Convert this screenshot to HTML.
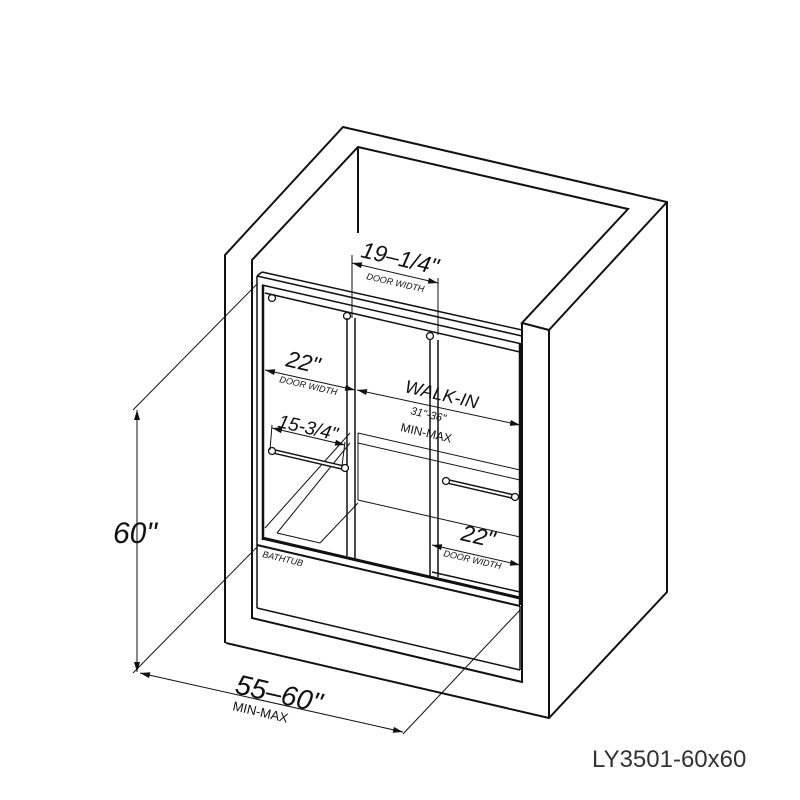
<!DOCTYPE html>
<html><head><meta charset="utf-8"><style>
html,body{margin:0;padding:0;background:#fff;}
svg{display:block;}
text{font-family:"Liberation Sans",sans-serif;fill:#111;}
.i{font-style:italic;}
.n{font-style:normal;}
</style></head><body>
<svg width="800" height="800" viewBox="0 0 800 800" xmlns="http://www.w3.org/2000/svg">
<defs>
<marker id="a" viewBox="0 0 10 6" refX="10" refY="3" markerWidth="10" markerHeight="6" orient="auto-start-reverse" markerUnits="userSpaceOnUse"><path d="M0,0 L10,3 L0,6 z" fill="#111"/></marker>
</defs>
<rect width="800" height="800" fill="#fff"/>
<g fill="none" stroke="#111" stroke-width="2" stroke-linejoin="miter">
<polyline points="225,643 225,255 343,127 667,202 667,592 549,718 226,643"/>
<polyline points="549,718 549,330 667,202"/>
<polyline points="549,330 522,323 628,209 358,147 252,260 252,618 522,682 522,323"/>
<line x1="358" y1="147" x2="358" y2="233"/>
<line x1="257" y1="276" x2="522" y2="336" stroke-width="1.5"/>
<line x1="257" y1="276" x2="262" y2="272" stroke-width="1.5"/>
<line x1="262" y1="272" x2="522" y2="330" stroke-width="1.5"/>
<line x1="262" y1="285" x2="522" y2="344" stroke-width="1.5"/>
<line x1="265" y1="293" x2="520" y2="352" stroke-width="1.5"/>
<line x1="257" y1="276" x2="257" y2="545" stroke-width="1.5"/>
<line x1="263" y1="285" x2="263" y2="540" stroke-width="2.5"/>
<line x1="520" y1="344" x2="520" y2="605" stroke-width="2.5"/>
<line x1="347" y1="318" x2="347" y2="556" stroke-width="1.5"/>
<line x1="355" y1="318" x2="355" y2="558" stroke-width="1.5"/>
<line x1="430" y1="340" x2="430" y2="577" stroke-width="1.5"/>
<line x1="438" y1="340" x2="438" y2="577" stroke-width="1.5"/>
<circle cx="272" cy="298" r="3.5" stroke-width="1.3"/>
<circle cx="347" cy="316" r="3.5" stroke-width="1.3"/>
<circle cx="430" cy="336" r="3.5" stroke-width="1.3"/>
<line x1="262" y1="538" x2="520" y2="598" stroke-width="3"/>
<line x1="257" y1="545" x2="520" y2="606" stroke-width="2"/>
<line x1="432" y1="572" x2="520" y2="592" stroke-width="1.5"/>
<line x1="257" y1="545" x2="257" y2="608" stroke-width="1.5"/>
<line x1="257" y1="608" x2="520" y2="670" stroke-width="1.5"/>
<line x1="520" y1="606" x2="520" y2="670" stroke-width="1.5"/>
<g stroke-width="1">
<line x1="358" y1="433" x2="520" y2="470"/>
<line x1="358" y1="443" x2="520" y2="480"/>
<line x1="358" y1="500" x2="520" y2="537"/>
<line x1="358" y1="433" x2="358" y2="500"/>
<line x1="350" y1="443" x2="277" y2="533"/>
<line x1="277" y1="533" x2="320" y2="543"/>
<line x1="320" y1="543" x2="358" y2="503"/>
<line x1="350" y1="433" x2="265" y2="528"/>
</g>
<line x1="272" y1="451" x2="345" y2="468" stroke-width="5"/>
<line x1="274" y1="451.5" x2="343" y2="467.5" stroke-width="2" stroke="#fff"/>
<circle cx="272" cy="451" r="3.5" stroke-width="1.3" fill="#fff"/>
<circle cx="345" cy="468" r="3.5" stroke-width="1.3" fill="#fff"/>
<line x1="446" y1="481" x2="515" y2="497" stroke-width="5"/>
<line x1="448" y1="481.5" x2="513" y2="496.5" stroke-width="2" stroke="#fff"/>
<circle cx="446" cy="481" r="3.5" stroke-width="1.3" fill="#fff"/>
<circle cx="515" cy="497" r="3.5" stroke-width="1.3" fill="#fff"/>
</g>
<g fill="none" stroke="#111" stroke-width="1">
<line x1="133" y1="410" x2="257" y2="284"/>
<line x1="133" y1="673" x2="257" y2="547"/>
<line x1="137" y1="410" x2="137" y2="672" marker-start="url(#a)" marker-end="url(#a)"/>
<line x1="140" y1="673" x2="403" y2="732" marker-start="url(#a)" marker-end="url(#a)"/>
<line x1="403" y1="734" x2="520" y2="610"/>
<line x1="352" y1="255" x2="352" y2="318"/>
<line x1="438" y1="278" x2="438" y2="335"/>
<line x1="352" y1="263" x2="438" y2="283" marker-start="url(#a)" marker-end="url(#a)"/>
<line x1="265" y1="370" x2="355" y2="390" marker-start="url(#a)" marker-end="url(#a)"/>
<line x1="357" y1="390" x2="520" y2="425" marker-start="url(#a)" marker-end="url(#a)"/>
<line x1="272" y1="428" x2="345" y2="445" marker-start="url(#a)" marker-end="url(#a)"/>
<line x1="272" y1="425" x2="270" y2="450"/>
<line x1="345" y1="442" x2="342" y2="466"/>
<line x1="432" y1="545" x2="520" y2="565" marker-start="url(#a)" marker-end="url(#a)"/>
</g>
<text class="i" x="113" y="543" font-size="30">60"</text>
<text class="i" transform="translate(234,693) rotate(13)" font-size="28">55–60"</text>
<text class="n" transform="translate(232,710) rotate(13)" font-size="13">MIN-MAX</text>
<text class="i" transform="translate(360,257) rotate(13)" font-size="23">19–1/4"</text>
<text class="i" transform="translate(366,279) rotate(13)" font-size="9">DOOR WIDTH</text>
<text class="i" transform="translate(285,366) rotate(13)" font-size="23">22"</text>
<text class="i" transform="translate(279,382) rotate(13)" font-size="9">DOOR WIDTH</text>
<text class="i" transform="translate(404,392) rotate(13)" font-size="18">WALK-IN</text>
<text class="i" transform="translate(410,414) rotate(13)" font-size="11">31"-36"</text>
<text class="n" transform="translate(400,431) rotate(13)" font-size="12">MIN-MAX</text>
<text class="i" transform="translate(277,427) rotate(13)" font-size="19">15-3/4"</text>
<text class="i" transform="translate(460,540) rotate(13)" font-size="23">22"</text>
<text class="i" transform="translate(443,556) rotate(13)" font-size="9">DOOR WIDTH</text>
<text class="i" transform="translate(262,557) rotate(13)" font-size="9">BATHTUB</text>
<text class="n" x="592" y="767" font-size="24" style="fill:#333">LY3501-60x60</text>
</svg>
</body></html>
